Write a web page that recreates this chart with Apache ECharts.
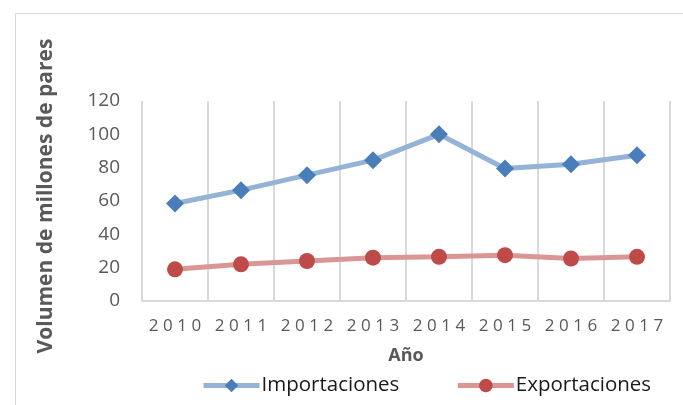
<!DOCTYPE html>
<html><head><meta charset="utf-8">
<script src="https://cdn.jsdelivr.net/npm/echarts@6/dist/echarts.min.js"></script>
<style>html,body{margin:0;padding:0;background:#fff}#c{width:683px;height:405px}</style>
</head><body><div id="c"></div>
<script>
var years = ['2010','2011','2012','2013','2014','2015','2016','2017'];
var importaciones = [58.5, 66.5, 75.5, 84.5, 100, 79.5, 82, 87.5];
var exportaciones = [19, 22, 24, 26, 26.5, 27.5, 25.5, 26.5];
var yTicks = [0, 20, 40, 60, 80, 100, 120];

var chart = echarts.init(document.getElementById('c'), null, {renderer: 'canvas'});
var font = '"Open Sans", "Liberation Sans", sans-serif';
chart.setOption({
  animation: false,
  backgroundColor: '#fff',
  graphic: [{
    type: 'rect', left: 13, top: 11,
    shape: {width: 700, height: 420},
    style: {fill: 'none', stroke: '#d9d9d9', lineWidth: 1}, silent: true
  }],
  grid: {left: 142, right: 13, top: 101, bottom: 104},
  legend: {
    top: 370, left: 196,
    itemWidth: 56, itemHeight: 17, itemGap: 56,
    lineStyle: {width: 5},
    textStyle: {fontFamily: font, fontSize: 20.5, color: '#1a1a1a', padding: [0,0,0,-3]},
    data: ['Importaciones', 'Exportaciones']
  },
  xAxis: {
    type: 'category', data: years, boundaryGap: true,
    name: 'Año', nameLocation: 'middle', nameGap: 46,
    nameTextStyle: {fontFamily: font, fontSize: 18, fontWeight: 'bold', color: '#595959'},
    axisLine: {lineStyle: {color: '#d9d9d9', width: 2}},
    axisTick: {show: false},
    splitLine: {show: true, interval: 0, lineStyle: {color: '#d9d9d9', width: 2}},
    axisLabel: {
      interval: 0, margin: 17, color: '#595959', fontFamily: font, fontSize: 17,
      formatter: function (v) { return v.split('').map(function (c) { return '{d|' + c + '}'; }).join(''); },
      rich: {d: {fontFamily: font, fontSize: 17, color: '#595959', padding: [0, 2.3, 0, 2.3]}}
    }
  },
  yAxis: {
    type: 'value', min: yTicks[0], max: yTicks[yTicks.length - 1], interval: 20,
    name: 'Volumen de millones de pares', nameLocation: 'middle', nameGap: 85,
    nameTextStyle: {fontFamily: font, fontSize: 21, fontWeight: 'bold', color: '#595959', padding: [0, 0, 0, 10]},
    axisLine: {show: false}, axisTick: {show: false},
    splitLine: {show: false},
    axisLabel: {margin: 22, color: '#595959', fontFamily: font, fontSize: 19}
  },
  series: [{
    name: 'Importaciones', type: 'line', data: importaciones,
    symbol: 'diamond', symbolSize: 18,
    lineStyle: {color: '#95b3d7', width: 5},
    itemStyle: {color: '#4a7ebb'}
  }, {
    name: 'Exportaciones', type: 'line', data: exportaciones,
    symbol: 'circle', symbolSize: 16,
    lineStyle: {color: '#da9694', width: 5},
    itemStyle: {color: '#be4b48'}
  }]
});
</script></body></html>
